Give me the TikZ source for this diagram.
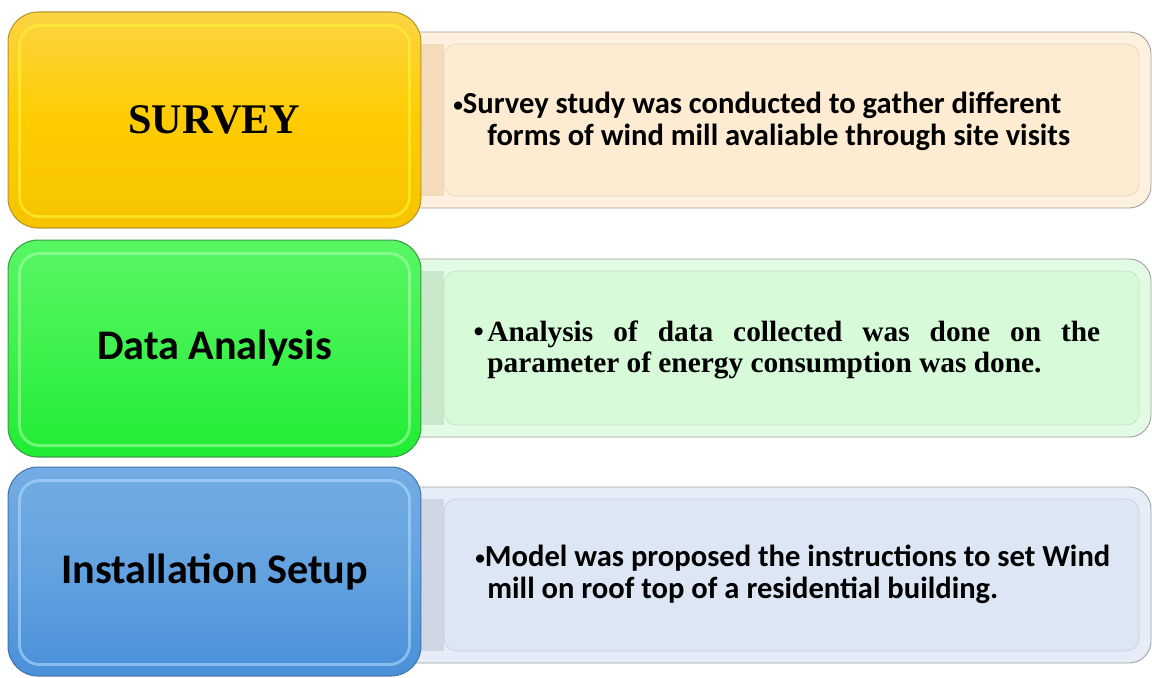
\documentclass[tikz,border=0pt]{standalone}
\usepackage{fontspec}
\setmainfont{Carlito}
\newfontfamily\timesfont{Liberation Serif}

% face colours of the three steps
\definecolor{surveytop}{HTML}{FCD443}
\definecolor{surveymid}{HTML}{FFCC00}
\definecolor{surveybot}{HTML}{F6C400}
\definecolor{surveyrim}{HTML}{B8962C}
\definecolor{surveyhi}{HTML}{FFF43A}
\definecolor{surveypale}{HTML}{FDEBD2}

\definecolor{analysistop}{HTML}{58F664}
\definecolor{analysismid}{HTML}{3FF24E}
\definecolor{analysisbot}{HTML}{20EC33}
\definecolor{analysisrim}{HTML}{3A9C43}
\definecolor{analysishi}{HTML}{A8FFA8}
\definecolor{analysispale}{HTML}{D7FAD9}

\definecolor{setuptop}{HTML}{74ACE4}
\definecolor{setupmid}{HTML}{62A2E0}
\definecolor{setupbot}{HTML}{4A90D8}
\definecolor{setuprim}{HTML}{4574AA}
\definecolor{setuphi}{HTML}{B0DAFF}
\definecolor{setuppale}{HTML}{DCE6F5}

\newcommand\notebullet{\raisebox{1pt}{\fontsize{11}{11}\selectfont\textbullet}}

\tikzset{
  stepbox/.style={draw=#1rim, line width=0.6pt, rounded corners=0.6cm,
    top color=#1top, bottom color=#1bot, middle color=#1mid,
    minimum width=8.26cm, inner sep=0pt, text=black,
    font=\fontsize{24}{28}\selectfont\bfseries},
  pagebox/.style={draw=gray!75, line width=0.5pt, fill=#1pale!70!white,
    rounded corners=0.44cm},
  pageface/.style={fill=#1pale, draw=#1pale!80!gray, line width=0.4pt,
    rounded corners=0.25cm},
  sheen/.style={draw=#1hi, line width=1.6pt, opacity=0.6, rounded corners=0.4cm},
  notetext/.style={anchor=base west, inner sep=0pt, text=black,
    font=\fontsize{17.4}{18.1}\selectfont\bfseries}
}

\begin{document}
\begin{tikzpicture}[x=0.02cm,y=-0.02cm]
\useasboundingbox (0,0) rectangle (1152,677);

% pages behind the step boxes
\draw[pagebox=survey] (380,32) rectangle (1151,208);
\fill[surveypale!85!brown] (380,44) rectangle (444,196);
\draw[pageface=survey] (444,44) rectangle (1139,196);
\draw[pagebox=analysis] (380,259) rectangle (1151,437);
\fill[analysispale!85!gray] (380,271) rectangle (444,425);
\draw[pageface=analysis] (444,271) rectangle (1139,425);
\draw[pagebox=setup] (380,487) rectangle (1151,663);
\fill[setuppale!85!gray] (380,499) rectangle (444,651);
\draw[pageface=setup] (444,499) rectangle (1139,651);

% step boxes
\node[stepbox=survey, minimum height=4.32cm] (survey) at (214.5,120)
  {\timesfont\fontsize{24}{28}\selectfont\bfseries SURVEY};
\node[stepbox=analysis, minimum height=4.34cm] (analysis) at (214.5,348.5) {Data Analysis};
\node[stepbox=setup, minimum height=4.18cm] (setup) at (214.5,571.5) {\raisebox{-3pt}{Installation Setup}};

\draw[sheen=survey] ([xshift=0.24cm,yshift=-0.28cm]survey.north west) rectangle ([xshift=-0.24cm,yshift=0.24cm]survey.south east);
\draw[sheen=analysis] ([xshift=0.24cm,yshift=-0.28cm]analysis.north west) rectangle ([xshift=-0.24cm,yshift=0.24cm]analysis.south east);
\draw[sheen=setup] ([xshift=0.24cm,yshift=-0.28cm]setup.north west) rectangle ([xshift=-0.24cm,yshift=0.24cm]setup.south east);

% notes
\node[notetext, align=left] (surveynote) at (453,145)
  {\notebullet Survey study was conducted to gather different\\
   \hspace*{0.68cm}forms of wind mill avaliable through site visits};
\node[notetext, text width=12.26cm, align=justify] (analysisnote) at (487,341)
  {\timesfont\fontsize{16.7}{18.1}\selectfont\bfseries
   \llap{\textbullet\hspace{2pt}}Analysis of data collected was done on the\linebreak
   parameter of energy consumption was done.};
\node[notetext, align=left] (setupnote) at (475,598)
  {\notebullet Model was proposed the instructions to set Wind\\
   \hspace*{0.24cm}mill on roof top of a residential building.};
\end{tikzpicture}
\end{document}
